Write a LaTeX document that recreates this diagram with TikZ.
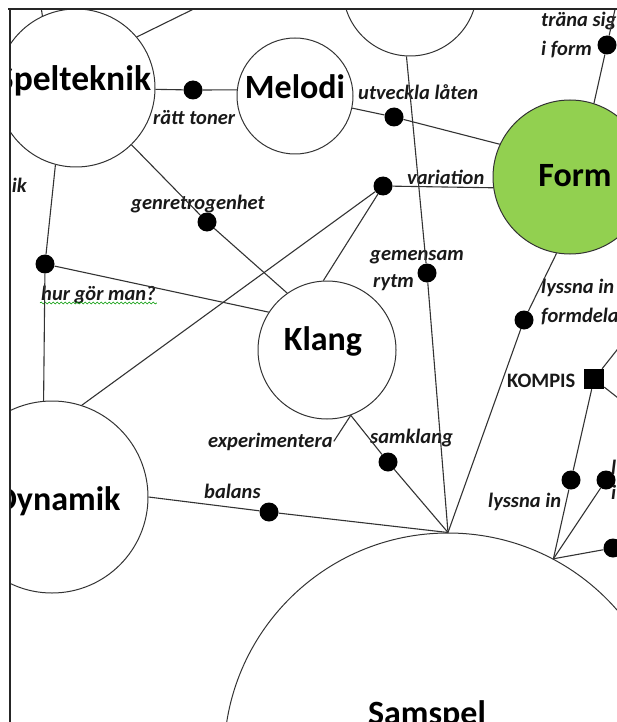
\documentclass[tikz,border=0pt]{standalone}
\usepackage{fontspec}
\setmainfont{Carlito}
\usetikzlibrary{decorations.pathmorphing}
\definecolor{formgreen}{RGB}{146,208,80}
\tikzstyle{concept} = [circle, draw=black!80, line width=1pt, inner sep=0pt]
\tikzstyle{ctext} = [anchor=base, inner sep=0pt, font=\fontsize{34}{40}\selectfont\bfseries]
\tikzstyle{link} = [anchor=base west, inner sep=1pt, font=\fontsize{20.5}{24}\selectfont\bfseries\itshape, text=black!90]
\tikzstyle{dot} = [circle, fill=black, inner sep=0pt, minimum size=19pt]
\tikzstyle{line} = [draw=black!80, line width=1.1pt]

\begin{document}
\begin{tikzpicture}[x=1pt, y=-1pt]
\useasboundingbox (0,0) rectangle (617,722);

\begin{scope}
\clip (10,9) rectangle (617,722);

% concepts
\node (spel) [concept, minimum size=158pt] at (76,88) {};
\node (melodi) [concept, minimum size=116pt] at (295,96) {};
\node (topc) [concept, minimum size=134pt] at (410,-11) {};
\node (form) [concept, fill=formgreen, minimum size=154pt] at (570,177) {};
\node (klang) [concept, minimum size=138pt] at (327,350) {};
\node (dyn) [concept, minimum size=192pt] at (52,497) {};
\node (samspel) [concept, minimum size=448pt] at (448,757) {};

\node (spel-t) [ctext, font=\fontsize{35.5}{40}\selectfont\bfseries] at (74,91) {Spelteknik};
\node (melodi-t) [ctext] at (295,99) {Melodi};
\node (form-t) [ctext] at (575,186) {Form};
\node (klang-t) [ctext] at (323,350) {Klang};
\node (dyn-t) [ctext] at (58,510) {Dynamik};
\node (samspel-t) [ctext] at (427,724) {Samspel};

% linking points
\node (d_ratt) [dot] at (193,90) {};
\node (d_utv) [dot] at (394,117) {};
\node (d_var) [dot] at (383,186) {};
\node (d_genre) [dot] at (207,222) {};
\node (d_hur) [dot] at (45,264) {};
\node (d_rytm) [dot] at (427,273) {};
\node (d_lyssform) [dot] at (524,320) {};
\node (d_trana) [dot] at (607,45) {};
\node (d_samklang) [dot] at (388,462) {};
\node (d_balans) [dot] at (269,512) {};
\node (d_lyssna) [dot] at (571,480) {};
\node (d_right1) [dot] at (606,480) {};
\node (d_right2) [dot] at (613,548) {};
\node (kompis) [rectangle, fill=black, inner sep=0pt, minimum size=20pt] at (594,379) {};

% linking phrases
\node (l_ratt) [link] at (152,125) {rätt toner};
\node (l_utv) [link] at (357,100) {utveckla låten};
\node (l_var) [link] at (406,184) {variation};
\node (l_trana1) [link] at (540,27) {träna sig};
\node (l_trana2) [link] at (540,56) {i form};
\node (l_genre) [link] at (130,209) {genretrogenhet};
\node (l_hur) [link] at (40,300) {hur gör man?};
\node (l_rytm1) [link] at (369,260) {gemensam};
\node (l_rytm2) [link] at (372,287) {rytm};
\node (l_lyss1) [link] at (540,293) {lyssna in};
\node (l_lyss2) [link] at (540,322) {formdelar};
\node (l_kompis) [link, font=\fontsize{20.5}{24}\selectfont\bfseries] at (506,387) {KOMPIS};
\node (l_exper) [link] at (207,447) {experimentera};
\node (l_samklang) [link] at (369,443) {samklang};
\node (l_balans) [link] at (203,498) {balans};
\node (l_lyssna) [link] at (487,507) {lyssna in};
\node (l_r1) [link] at (610,474) {l};
\node (l_r2) [link] at (610,499) {i};
\node (l_ik) [link, anchor=base east] at (28,193) {ik};

\draw [green!60!black, line width=0.6pt, decorate, decoration={snake, amplitude=1pt, segment length=4pt}] ([yshift=-3pt]l_hur.base west) -- ([yshift=-3pt]l_hur.base east);

% loose ends
\coordinate (c_sp1) at (40,0);
\coordinate (c_sp2) at (212,0);
\coordinate (c_trana) at (616,5);
\coordinate (c_k1) at (628,336);
\coordinate (c_k2) at (632,409);

% connectors
\draw [line] (spel) -- (d_ratt) -- (melodi.174);
\draw [line] (melodi) -- (d_utv) -- (form.155);
\draw [line] (topc.-93) -- (d_rytm) -- (samspel.north);
\draw [line] (d_var) -- (form.188);
\draw [line] (d_var) -- (klang.93);
\draw [line] (d_var) -- (dyn.72);
\draw [line] (spel) -- (d_genre) -- (klang.125);
\draw [line] (spel.-105) -- (d_hur) -- (dyn.95);
\draw [line] (d_hur) -- (klang.147);
\draw [line] (klang.-70) -- (l_exper.east);
\draw [line] (klang.-70) -- (d_samklang) -- (samspel.north);
\draw [line] (dyn.east) -- (d_balans) -- (samspel.north);
\draw [line] (form.-100) -- (d_lyssform) -- (samspel.north);
\draw [line] (c_trana) -- (d_trana) -- (form.72);
\draw [line] (c_k1) -- (kompis) -- (c_k2);
\draw [line] (kompis) -- (d_lyssna) -- (samspel.62.6);
\draw [line] (d_right1) -- (samspel.62.6);
\draw [line] (d_right2) -- (samspel.62.6);
\draw [line] (spel.115) -- (c_sp1);
\draw [line] (spel.40) -- (c_sp2);
\end{scope}

% frame
\draw [line width=2pt, black!85] (8,9) -- (617,9);
\draw [line width=2pt, black!85] (10,9) -- (10,722);

\end{tikzpicture}
\end{document}
